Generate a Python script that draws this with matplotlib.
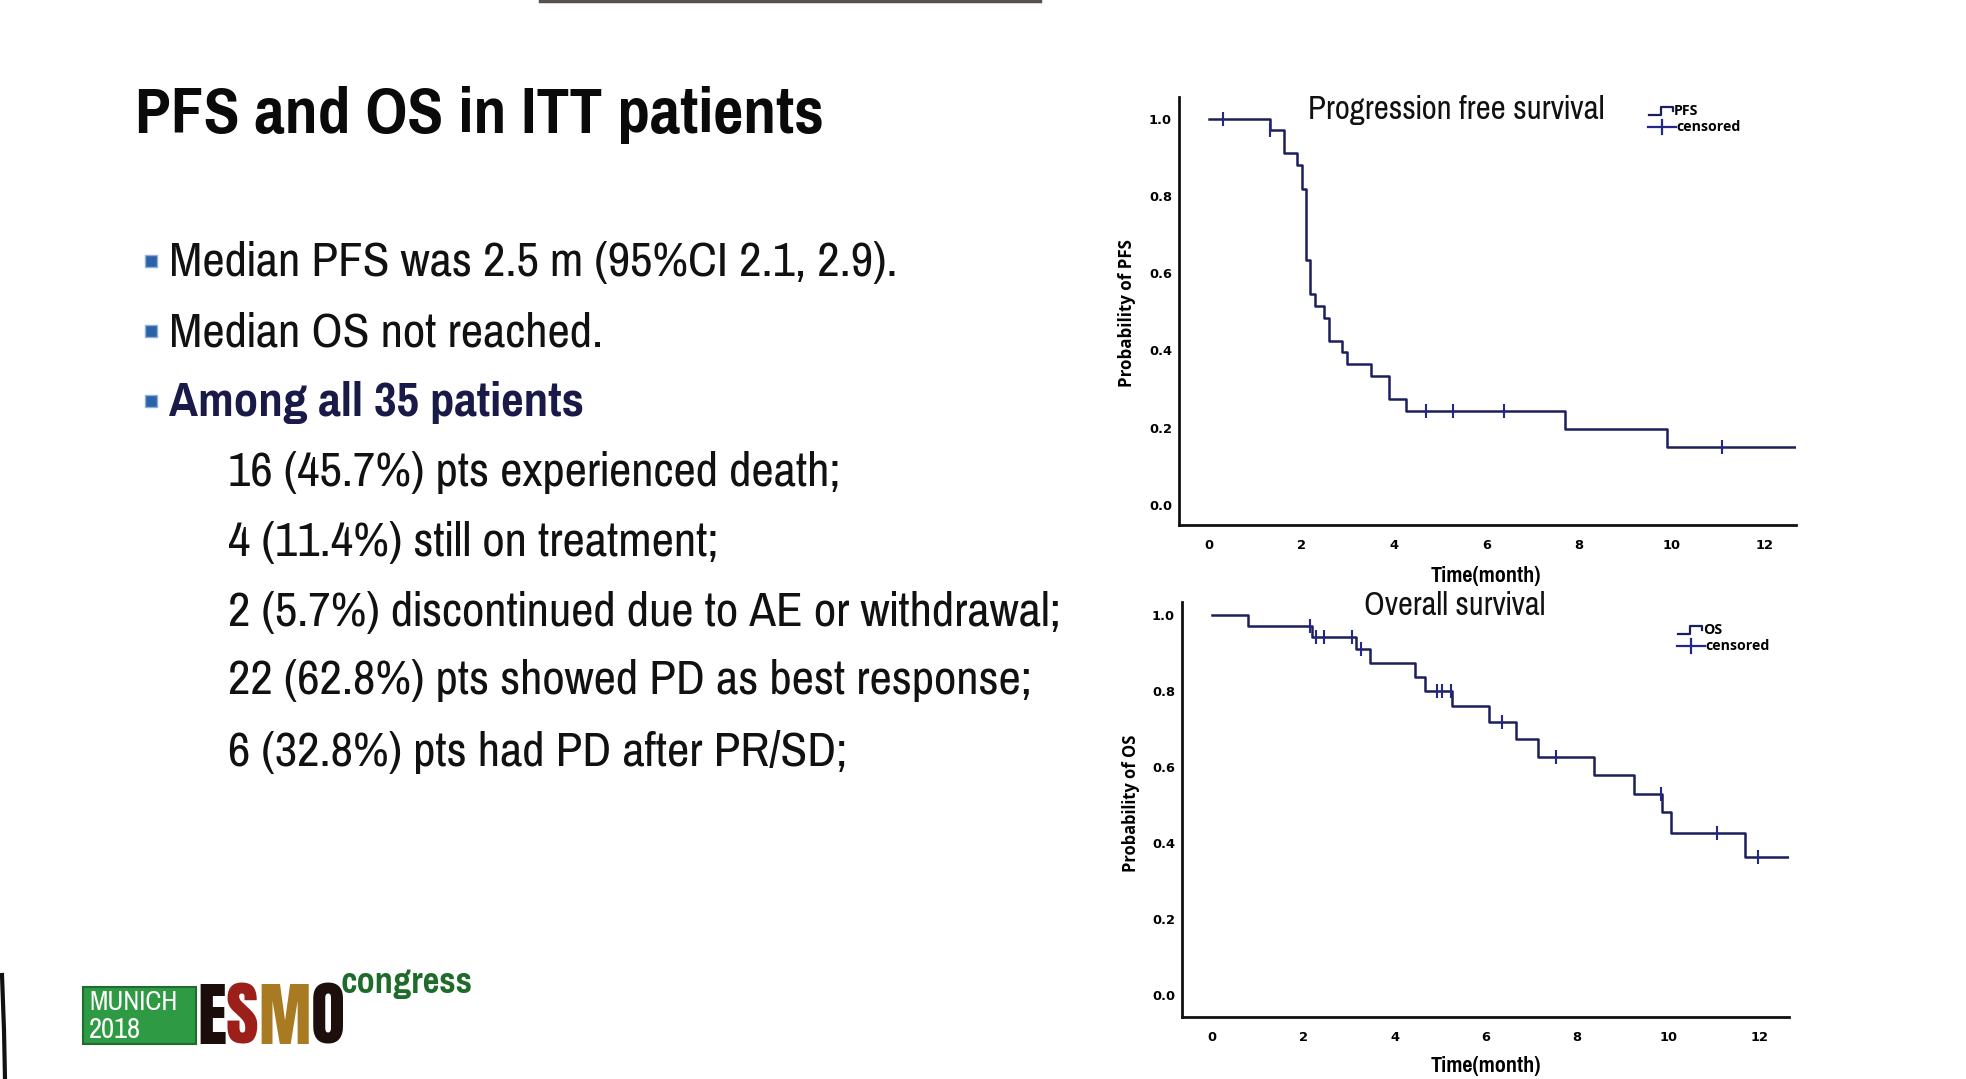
import numpy as np
import matplotlib
matplotlib.use("Agg")
import matplotlib.pyplot as plt
from matplotlib import font_manager
from matplotlib.patches import Rectangle

# ---- data ----
pfs_times = [0, 1.32, 1.62, 1.91, 2.01, 2.09, 2.19, 2.29, 2.49, 2.59, 2.88, 2.98,
             3.50, 3.89, 4.27, 7.69, 9.91, 12.69]
pfs_surv = [1.0, 0.970, 0.911, 0.879, 0.819, 0.635, 0.545, 0.515, 0.485, 0.424,
            0.395, 0.364, 0.334, 0.273, 0.244, 0.197, 0.149, 0.149]
pfs_censor = [0.31, 1.32, 4.69, 5.28, 6.39, 11.10]

os_times = [0, 0.79, 2.20, 3.15, 3.46, 4.46, 4.66, 5.26, 6.06, 6.66, 7.15, 8.36,
            9.25, 9.86, 10.06, 11.67, 12.64]
os_surv = [1.0, 0.970, 0.941, 0.909, 0.872, 0.835, 0.800, 0.759, 0.717, 0.672,
           0.625, 0.578, 0.529, 0.481, 0.425, 0.362, 0.362]
os_censor = [2.16, 2.28, 2.46, 3.06, 3.26, 4.94, 5.04, 5.24, 6.36, 7.53, 9.83,
             11.07, 11.97]

x_ticks = [0, 2, 4, 6, 8, 10, 12]
y_ticks = [0.0, 0.2, 0.4, 0.6, 0.8, 1.0]

bullets = ["Median PFS was 2.5 m (95%CI 2.1, 2.9).",
           "Median OS not reached.",
           "Among all 35 patients"]
details = ["16 (45.7%) pts experienced death;",
           "4 (11.4%) still on treatment;",
           "2 (5.7%) discontinued due to AE or withdrawal;",
           "22 (62.8%) pts showed PD as best response;",
           "6 (32.8%) pts had PD after PR/SD;"]


def weight_num(w):
    if isinstance(w, (int, float)):
        return w
    return {"normal": 400, "regular": 400, "bold": 700}.get(str(w), 400)


avail = {}
for f in font_manager.fontManager.ttflist:
    avail.setdefault(f.name, set()).add(weight_num(f.weight))


def pick(cands, fallback):
    for c in cands:
        ws = avail.get(c, set())
        if any(w >= 600 for w in ws) and any(w <= 500 for w in ws):
            return c
    return fallback


NARROW = pick(["Liberation Sans Narrow", "Arial Narrow", "Archivo Narrow",
               "Pragati Narrow", "Roboto Condensed", "PT Sans Narrow",
               "IBM Plex Sans Condensed"], "Liberation Sans")
TICKF = pick(["Open Sans", "Noto Sans"], "DejaVu Sans")
LOGOF = next((c for c in ["Anton", "League Gothic", "Bebas Neue", "Oswald"]
              if c in avail), NARROW)
LINE_C = "#1b1f5c"
MARK_C = "#23278a"

W, H = 1966, 1079
fig = plt.figure(figsize=(W / 100, H / 100), dpi=100)
fig.patch.set_facecolor("white")
renderer = fig.canvas.get_renderer()

# background axes in pixel coordinates for slide text
bg = fig.add_axes([0, 0, 1, 1], zorder=0)
bg.set_xlim(0, W)
bg.set_ylim(H, 0)
bg.axis("off")


def text_w(t):
    return t.get_window_extent(renderer).width


def fit(x, y, s, width, size0=20, **kw):
    t = bg.text(x, y, s, fontsize=size0, **kw)
    t.set_fontsize(size0 * width / text_w(t))
    return t


fit(135, 115, "PFS and OS in ITT patients", 689, family=NARROW,
    weight="bold", va="center", ha="left", color="#0a0a0a")

# common size for body text, from the longest line
probe = bg.text(0, 0, details[2], fontsize=20, family=NARROW)
body_size = 20 * 835 / text_w(probe)
probe.remove()

line_y = [263, 333, 403, 473, 542, 612, 681, 752]
for i, t in enumerate(bullets):
    y = line_y[i]
    bg.add_patch(Rectangle((145, y - 8), 12, 12, facecolor="#2c62a8",
                           edgecolor="#8fb0d8", lw=1))
    bold = i == 2
    bg.text(169, y, t, family=NARROW, fontsize=body_size, va="center",
            ha="left", weight="bold" if bold else "normal",
            color="#1a1a48" if bold else "#111111")
for j, t in enumerate(details):
    bg.text(228, line_y[3 + j], t, family=NARROW, fontsize=body_size,
            va="center", ha="left", color="#111111")

# logo
bg.add_patch(Rectangle((83, 987), 113, 57, facecolor="#2e9a44",
                       edgecolor="#1d6e2e", lw=1.5))
fit(89, 1002, "MUNICH", 88, family=NARROW, color="white", va="center")
fit(89, 1029, "2018", 52, family=NARROW, color="white", va="center")
esmo_cols = ["#1a0d0a", "#9c1f1a", "#a87a22", "#1c0f0c"]
logo_w = "normal" if LOGOF != NARROW else "bold"
probe = bg.text(0, 0, "ESMO", fontsize=40, family=LOGOF, weight=logo_w)
esmo_size = 40 * 148 / text_w(probe)
probe.remove()
x = 197
for ch, c in zip("ESMO", esmo_cols):
    t = bg.text(x, 1044, ch, family=LOGOF, weight=logo_w, fontsize=esmo_size,
                color=c, va="baseline", ha="left")
    x += text_w(t)
fit(341, 993, "congress", 132, family=NARROW, weight="bold",
    color="#1e6b2c", va="baseline", ha="left")
# photo edges
bg.plot([540, 1040], [1, 1], color="#3a3330", lw=2.5, alpha=0.85)
bg.plot([2, 4, 5], [975, 1030, 1079], color="#111111", lw=3)


def km_panel(rect, times, surv, censor, xlim, ylim, ylabel, title, title_w,
             name, title_xy, leg_xy, ylab_xy, ylab_w, xlab_xy):
    ax = fig.add_axes(rect, zorder=2)
    ax.patch.set_alpha(0)
    ax.step(times, surv, where="post", color=LINE_C, lw=1.8)
    idx = np.searchsorted(times, censor, side="right") - 1
    ax.plot(censor, np.array(surv)[idx], ls="none", marker="|", ms=10,
            mew=1.5, color=MARK_C)
    ax.set_xlim(*xlim)
    ax.set_ylim(*ylim)
    ax.set_xticks(x_ticks)
    ax.set_yticks(y_ticks)
    ax.set_yticklabels([f"{v:.1f}" for v in y_ticks])
    for s in ["top", "right"]:
        ax.spines[s].set_visible(False)
    for s in ["left", "bottom"]:
        ax.spines[s].set_linewidth(2)
        ax.spines[s].set_color("#111111")
    ax.tick_params(length=0, labelsize=9.4)
    ax.tick_params(axis="x", pad=10)
    ax.tick_params(axis="y", pad=5)
    for lab in ax.get_xticklabels() + ax.get_yticklabels():
        lab.set_family("DejaVu Sans")
        lab.set_weight("bold")
    fit(*title_xy, title, title_w, family=NARROW, ha="center", va="center",
        color="#111111")
    fit(*ylab_xy, ylabel, ylab_w, family=TICKF, weight="bold",
        ha="center", va="center").set_rotation(90)
    fit(*xlab_xy, "Time(month)", 110, family=NARROW, weight="bold",
        ha="center", va="center")
    # legend
    lx, ly = leg_xy
    bg.plot([lx, lx + 12, lx + 12, lx + 24, lx + 24],
            [ly + 4, ly + 4, ly - 4, ly - 4, ly], color=LINE_C, lw=1.6)
    c = fit(lx + 27, ly + 16, "censored", 64, family=TICKF, weight="bold",
            va="center", ha="left")
    bg.text(lx + 25, ly, name, family=TICKF, weight="bold",
            fontsize=c.get_fontsize(), va="center", ha="left")
    bg.plot([lx - 1, lx + 27], [ly + 16, ly + 16], color=MARK_C, lw=1.6)
    bg.plot([lx + 13, lx + 13], [ly + 9, ly + 23], color=MARK_C, lw=1.6)
    return ax


km_panel([1179 / W, 1 - 525 / H, 617 / W, 428 / H], pfs_times, pfs_surv,
         pfs_censor, (-0.644, 12.69), (-0.052, 1.056), "Probability of PFS",
         "Progression free survival", 297, "PFS", (1456, 110), (1649, 111),
         (1127, 313), 147, (1486, 576))
km_panel([1182 / W, 1 - 1017 / H, 607 / W, 415 / H], os_times, os_surv,
         os_censor, (-0.653, 12.64), (-0.059, 1.033), "Probability of OS",
         "Overall survival", 182, "OS", (1455, 606), (1678, 630),
         (1131, 803), 138, (1486, 1066))

fig.savefig("out.png", dpi=100)
